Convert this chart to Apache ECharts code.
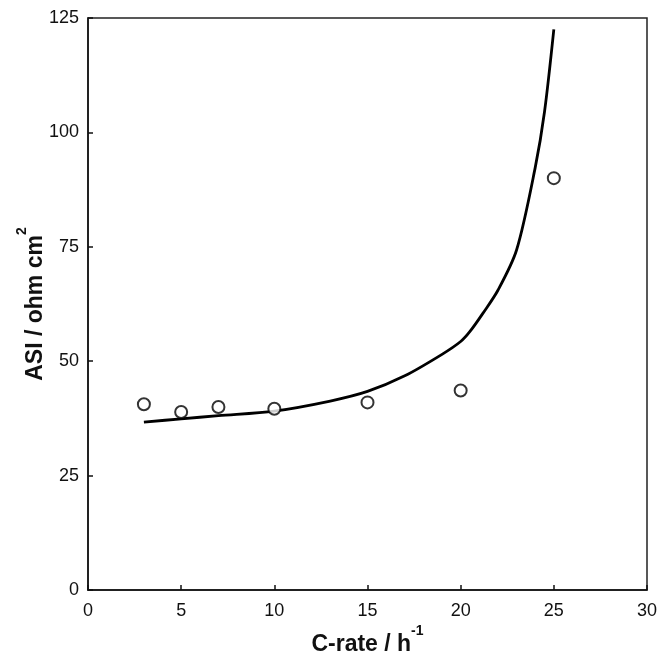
<!DOCTYPE html>
<html>
<head>
    <meta charset="utf-8">
    <title>ASI vs C-rate</title>
    <script src="https://cdn.jsdelivr.net/npm/echarts@6/dist/echarts.min.js"></script>
    <style>
        html, body { margin: 0; padding: 0; background: #fff; }
    </style>
</head>
<body>
    <div id="chart" style="width: 672px;height:657px;"></div>

    <script type="text/javascript">
       // measured points (open circles)
       var measRate = [3, 5, 7, 10, 15, 20, 25];
       var measAsi = [40.6, 38.9, 40.0, 39.6, 41.0, 43.6, 90.0];

       // model curve (solid line)
       var fitRate = [3, 5, 7, 10, 13, 15, 17, 19, 20, 20.5, 21.2, 22, 23, 24, 24.5, 25];
       var fitAsi = [36.7, 37.4, 38.1, 39.1, 41.3, 43.4, 46.8, 51.5, 54.3, 56.5, 60.5, 65.5, 74.3, 92.3, 104.5, 122.5];

       var xTicks = [0, 5, 10, 15, 20, 25, 30];
       var yTicks = [0, 25, 50, 75, 100, 125];

       function pairs(xs, ys) {
           var out = [];
           for (var i = 0; i < xs.length; i++) out.push([xs[i], ys[i]]);
           return out;
       }

       var font = 'Liberation Sans, Arial, sans-serif';
       var nameRich = {
           b: { fontSize: 23, fontWeight: 'bold', fontFamily: font, color: '#111', verticalAlign: 'bottom', lineHeight: 32 },
           s: { fontSize: 14, fontWeight: 'bold', fontFamily: font, color: '#111', verticalAlign: 'top', lineHeight: 14 }
       };
       var myChart = echarts.init(document.getElementById('chart'));

       myChart.setOption({
           animation: false,
           grid: {
               left: 88, right: 25, top: 18, bottom: 67,
               outerBoundsMode: 'none',
               show: true, borderColor: '#222', borderWidth: 1.5
           },
           xAxis: {
               type: 'value',
               min: xTicks[0], max: xTicks[xTicks.length - 1], interval: 5,
               axisLine: { lineStyle: { color: '#111', width: 1.5 } },
               axisTick: { inside: true, length: 5, lineStyle: { color: '#111', width: 1.5 } },
               axisLabel: { color: '#111', fontSize: 18, fontFamily: font, margin: 12, showMaxLabel: true },
               splitLine: { show: false },
               name: '{b|C-rate / h}{s|-1}',
               nameLocation: 'middle',
               nameGap: 34,
               nameMoveOverlap: false,
               nameTextStyle: { rich: nameRich }
           },
           yAxis: {
               type: 'value',
               min: yTicks[0], max: yTicks[yTicks.length - 1], interval: 25,
               axisLine: { lineStyle: { color: '#111', width: 1.5 } },
               axisTick: { inside: true, length: 5, lineStyle: { color: '#111', width: 1.5 } },
               axisLabel: { color: '#111', fontSize: 18, fontFamily: font, margin: 9 },
               splitLine: { show: false },
               name: '{b|ASI / ohm cm}{s|2}',
               nameLocation: 'middle',
               nameRotate: 90,
               nameGap: 41,
               nameMoveOverlap: false,
               nameTextStyle: { rich: nameRich }
           },
           series: [
               {
                   type: 'line',
                   data: pairs(fitRate, fitAsi),
                   smooth: 0.3,
                   showSymbol: false,
                   lineStyle: { color: '#000', width: 2.8 },
                   z: 2
               },
               {
                   type: 'scatter',
                   data: pairs(measRate, measAsi),
                   symbol: 'circle',
                   symbolSize: 12,
                   itemStyle: { color: '#fff', borderColor: '#000', borderWidth: 2 },
                   z: 3
               }
           ]
       });
    </script>
</body>
</html>
